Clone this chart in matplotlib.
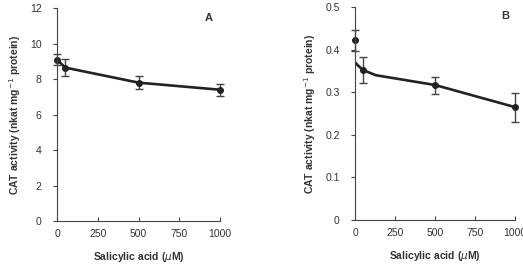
import numpy as np
import matplotlib
matplotlib.use("Agg")
import matplotlib.pyplot as plt

plt.rcParams['font.family'] = ['Liberation Sans Narrow', 'Liberation Sans', 'DejaVu Sans']

# salicylic acid concentrations (uM)
sa_conc = [0, 50, 500, 1000]

# panel A: CAT activity
cat_a = [9.1, 8.65, 7.8, 7.4]
err_a = [0.3, 0.5, 0.38, 0.35]

# panel B: CAT activity
cat_b = [0.422, 0.352, 0.317, 0.265]
err_b = [0.025, 0.03, 0.02, 0.034]
# fitted curve drawn in panel B
fit_x_b = [0, 15, 50, 130, 500, 1000]
fit_y_b = [0.370, 0.364, 0.352, 0.340, 0.317, 0.265]

gray = '#444444'
txt = '#333333'

fig = plt.figure(figsize=(5.23, 2.72), dpi=100)
axA = fig.add_axes([0.109, 0.1875, 0.312, 0.7825])
axB = fig.add_axes([0.679, 0.191, 0.306, 0.783])


def style(ax, ylim, yticks, ylabels, letter, lx, ly):
    ax.set_xlim(0, 1000)
    ax.set_ylim(*ylim)
    ax.set_xticks([0, 250, 500, 750, 1000])
    ax.set_yticks(yticks)
    ax.set_yticklabels(ylabels)
    for s in ['top', 'right']:
        ax.spines[s].set_visible(False)
    for s in ['left', 'bottom']:
        ax.spines[s].set_color(gray)
        ax.spines[s].set_linewidth(0.8)
    ax.tick_params(axis='x', direction='in', length=3, color=gray,
                   labelsize=7.5, labelcolor=txt, pad=6)
    ax.tick_params(axis='y', direction='out', length=3, color=gray,
                   labelsize=7.5, labelcolor=txt, pad=8)
    ax.set_xlabel('Salicylic acid ($\\mu$M)', fontsize=7.5, fontweight='bold',
                  color=txt, labelpad=8)
    ax.set_ylabel('CAT activity (nkat mg$^{-1}$ protein)', fontsize=7.5,
                  fontweight='bold', color=txt, labelpad=5)
    ax.text(lx, ly, letter, transform=ax.transAxes, fontsize=8,
            fontweight='bold', color=txt, ha='center', va='center')
    for lab in ax.get_xticklabels() + ax.get_yticklabels():
        lab.set_clip_on(False)


axA.plot(sa_conc, cat_a, '-', color='#222222', lw=1.9)
axA.errorbar(sa_conc, cat_a, yerr=err_a, fmt='o', color='#222222', ms=4,
             elinewidth=1.0, capsize=3, capthick=1.0, ecolor='#444444', clip_on=False)
style(axA, (0, 12), [0, 2, 4, 6, 8, 10, 12], ['0', '2', '4', '6', '8', '10', '12'],
      'A', 0.93, 0.955)

axB.plot(fit_x_b, fit_y_b, '-', color='#222222', lw=1.9)
axB.errorbar(sa_conc, cat_b, yerr=err_b, fmt='o', color='#222222', ms=4,
             elinewidth=1.0, capsize=3, capthick=1.0, ecolor='#444444', clip_on=False)
style(axB, (0, 0.5), [0, 0.1, 0.2, 0.3, 0.4, 0.5], ['0', '0.1', '0.2', '0.3', '0.4', '0.5'],
      'B', 0.94, 0.96)

fig.savefig('out.png', dpi=100)
